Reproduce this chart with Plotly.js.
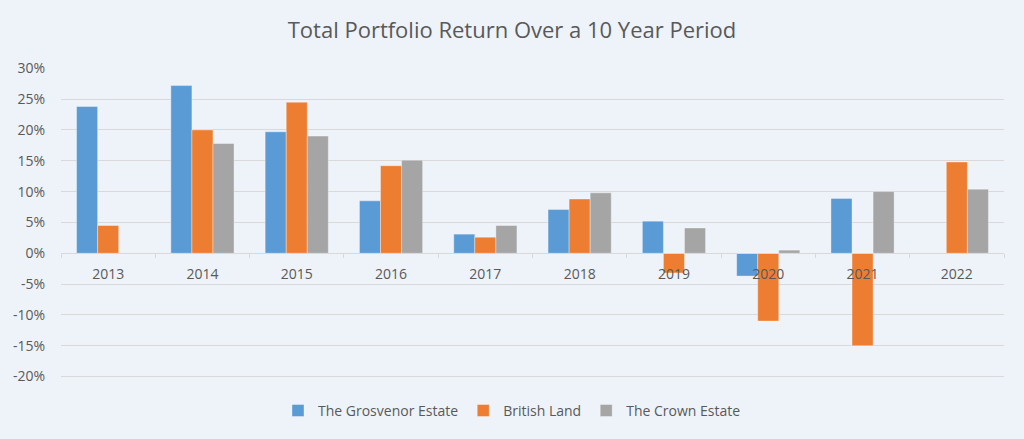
<!DOCTYPE html>
<html>
<head>
<meta charset="utf-8">
<script src="https://cdn.plot.ly/plotly-3.0.1.min.js"></script>
<style>html,body{margin:0;padding:0;background:#EEF3FA;}#chart{width:1024px;height:439px;}</style>
</head>
<body>
<div id="chart"></div>
<script>
const years = ['2013','2014','2015','2016','2017','2018','2019','2020','2021','2022'];
const grosvenor = [23.8, 27.2, 19.7, 8.5, 3.1, 7.1, 5.2, -3.7, 8.9, null];
const britishLand = [4.5, 20.0, 24.5, 14.2, 2.6, 8.8, -3.2, -11.0, -15.0, 14.8];
const crownEstate = [null, 17.8, 19.0, 15.1, 4.5, 9.8, 4.1, 0.5, 10.0, 10.4];
const seriesNames = ['The Grosvenor Estate', 'British Land', 'The Crown Estate'];
const seriesColors = ['#5B9BD5', '#ED7D31', '#A5A5A5'];
const yTickVals = [-20, -15, -10, -5, 0, 5, 10, 15, 20, 25, 30];
const yTickText = ['-20%', '-15%', '-10%', '-5%', '0%', '5%', '10%', '15%', '20%', '25%', '30%'];

const seriesData = [grosvenor, britishLand, crownEstate];
const traces = seriesData.map((vals, i) => ({
  type: 'bar',
  name: seriesNames[i],
  x: years,
  y: vals,
  marker: {color: seriesColors[i], line: {color: 'rgba(255,255,255,0.35)', width: 1}},
  hoverinfo: 'x+y+name'
}));

const yMin = -20.4, yMax = 30.05;
const font = "'Open Sans', 'Noto Sans', sans-serif";
const layout = {
  width: 1024, height: 439,
  paper_bgcolor: '#EEF3FA', plot_bgcolor: '#EEF3FA',
  margin: {l: 61, r: 20, t: 68, b: 60, autoexpand: false},
  title: {text: 'Total Portfolio Return Over a 10 Year Period', font: {family: font, size: 22, color: '#595959'}, x: 0.5, xanchor: 'center', y: 0.93, yanchor: 'middle'},
  barmode: 'group', bargap: 0.33, bargroupgap: 0,
  xaxis: {
    type: 'category', anchor: 'free', position: (0 - yMin) / (yMax - yMin),
    showline: true, linecolor: '#D9D9D9', linewidth: 1,
    ticks: 'outside', tickson: 'boundaries', ticklen: 4, tickcolor: '#D9D9D9',
    tickfont: {family: font, size: 14, color: '#595959'},
    showgrid: false, zeroline: false, ticklabelstandoff: 8
  },
  yaxis: {
    range: [yMin, yMax], tickvals: yTickVals, ticktext: yTickText,
    showgrid: true, gridcolor: '#D9D9D9', gridwidth: 1,
    zeroline: false, showline: false, ticks: '',
    tickfont: {family: font, size: 14, color: '#595959'},
    ticklabelstandoff: 15
  },
  legend: {orientation: 'h', xref: 'container', x: 0.5, xanchor: 'center', yref: 'container', y: 0.064, yanchor: 'middle',
    itemwidth: 30,
    font: {family: font, size: 14, color: '#595959'}, bgcolor: 'rgba(0,0,0,0)'},
  showlegend: true
};

Plotly.newPlot('chart', traces, layout, {displayModeBar: false, staticPlot: false});
</script>
</body>
</html>
